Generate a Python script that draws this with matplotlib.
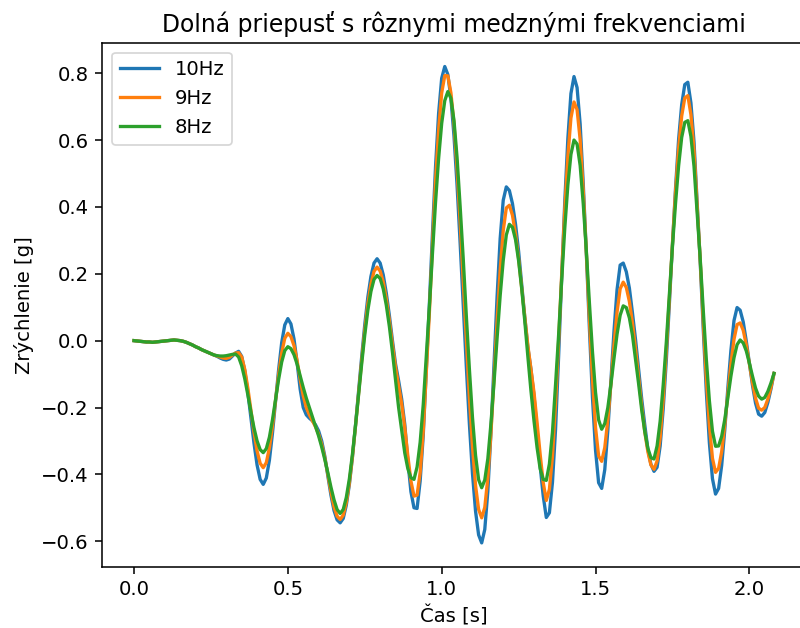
import numpy as np
import matplotlib
matplotlib.use("Agg")
import matplotlib.pyplot as plt

# Sampling rate of the filtered acceleration signals [Hz]
fs = 100

labels = ["10Hz", "9Hz", "8Hz"]

# Low-pass filtered acceleration [g], cutoff 10 Hz
acc_10hz = [
    0.000, -0.001, -0.002, -0.003, -0.004, -0.004, -0.005, -0.004, -0.003, -0.002,
    -0.001, 0.000, 0.001, 0.002, 0.001, 0.000, -0.002, -0.005, -0.009, -0.013,
    -0.018, -0.022, -0.027, -0.031, -0.035, -0.039, -0.043,
    -0.047, -0.052, -0.056, -0.058, -0.055, -0.046, -0.037, -0.032,
    -0.047, -0.090, -0.155, -0.231, -0.307, -0.372, -0.415, -0.430,
    -0.411, -0.358, -0.277, -0.182, -0.087, -0.006, 0.047, 0.066,
    0.050, 0.005, -0.065, -0.145, -0.200, -0.222, -0.232, -0.240, -0.252, -0.270,
    -0.300, -0.345, -0.405, -0.462, -0.508, -0.536, -0.545,
    -0.532, -0.492, -0.430, -0.348, -0.252, -0.150, -0.048, 0.048, 0.130, 0.192, 0.232, 0.245,
    0.232, 0.197, 0.142, 0.075, 0.000, -0.070, -0.120, -0.175, -0.250, -0.360, -0.452, -0.500, -0.502,
    -0.420, -0.284, -0.090, 0.110, 0.320, 0.520, 0.680, 0.785, 0.820,
    0.796, 0.725, 0.612, 0.464, 0.291, 0.108, -0.076, -0.249, -0.397, -0.510, -0.581, -0.605,
    -0.565, -0.450, -0.276, -0.073, 0.131, 0.305, 0.420, 0.460,
    0.449, 0.410, 0.348, 0.267, 0.170, 0.070, -0.020, -0.085, -0.165, -0.270, -0.375, -0.465, -0.529,
    -0.515, -0.424, -0.266, -0.047, 0.189, 0.415, 0.604, 0.739, 0.790,
    0.757, 0.648, 0.471, 0.264, 0.038, -0.170, -0.328, -0.425, -0.442,
    -0.386, -0.268, -0.121, 0.029, 0.153, 0.226, 0.232,
    0.206, 0.157, 0.083, 0.003, -0.087, -0.174, -0.252, -0.324, -0.370, -0.391,
    -0.379, -0.315, -0.203, -0.059, 0.111, 0.288, 0.456, 0.602, 0.706, 0.766,
    0.773, 0.711, 0.595, 0.419, 0.239, 0.036, -0.151, -0.306, -0.413, -0.459,
    -0.442, -0.373, -0.267, -0.142, -0.029, 0.060, 0.099,
    0.091, 0.056, -0.002, -0.067, -0.133, -0.187, -0.220, -0.226,
    -0.215, -0.185, -0.145, -0.098,
]

# Low-pass filtered acceleration [g], cutoff 9 Hz
acc_9hz = [
    0.000, -0.001, -0.002, -0.003, -0.004, -0.004, -0.005, -0.004, -0.003, -0.002,
    -0.001, 0.000, 0.001, 0.002, 0.001, 0.000, -0.002, -0.005, -0.009, -0.013,
    -0.018, -0.022, -0.027, -0.031, -0.035, -0.039, -0.043,
    -0.046, -0.049, -0.052, -0.053, -0.050, -0.043, -0.037, -0.036,
    -0.049, -0.086, -0.142, -0.208, -0.274, -0.330, -0.367, -0.380,
    -0.365, -0.321, -0.256, -0.179, -0.102, -0.037, 0.007, 0.022,
    0.012, -0.015, -0.060, -0.115, -0.165, -0.200, -0.222, -0.240, -0.258, -0.280,
    -0.310, -0.350, -0.400, -0.452, -0.497, -0.525, -0.535,
    -0.522, -0.484, -0.425, -0.346, -0.255, -0.158, -0.060, 0.031, 0.110, 0.169, 0.207, 0.220,
    0.208, 0.176, 0.125, 0.060, -0.012, -0.080, -0.135, -0.190, -0.260, -0.345, -0.420, -0.465, -0.462,
    -0.395, -0.271, -0.093, 0.084, 0.286, 0.478, 0.631, 0.741, 0.793,
    0.792, 0.741, 0.648, 0.513, 0.354, 0.178, -0.003, -0.171, -0.317, -0.433, -0.505, -0.530,
    -0.499, -0.410, -0.277, -0.113, 0.057, 0.211, 0.329, 0.397,
    0.405, 0.375, 0.318, 0.245, 0.158, 0.068, -0.015, -0.085, -0.155, -0.245, -0.340, -0.425, -0.478,
    -0.445, -0.347, -0.190, -0.003, 0.198, 0.391, 0.551, 0.666, 0.714,
    0.691, 0.601, 0.449, 0.266, 0.067, -0.116, -0.260, -0.345, -0.361,
    -0.320, -0.236, -0.129, -0.013, 0.086, 0.155, 0.175,
    0.159, 0.117, 0.053, -0.024, -0.109, -0.195, -0.273, -0.332, -0.372, -0.385,
    -0.360, -0.290, -0.176, -0.029, 0.126, 0.290, 0.445, 0.575, 0.672, 0.726,
    0.733, 0.676, 0.570, 0.410, 0.245, 0.059, -0.113, -0.254, -0.352, -0.394,
    -0.382, -0.332, -0.251, -0.160, -0.069, 0.004, 0.048,
    0.053, 0.031, -0.013, -0.068, -0.125, -0.172, -0.202, -0.208,
    -0.200, -0.175, -0.140, -0.098,
]

# Low-pass filtered acceleration [g], cutoff 8 Hz
acc_8hz = [
    0.000, -0.001, -0.002, -0.003, -0.004, -0.004, -0.005, -0.004, -0.003, -0.002,
    -0.001, 0.000, 0.001, 0.002, 0.001, 0.000, -0.002, -0.005, -0.009, -0.013,
    -0.018, -0.022, -0.027, -0.031, -0.035, -0.039, -0.043,
    -0.045, -0.046, -0.046, -0.045, -0.043, -0.041, -0.040,
    -0.049, -0.075, -0.114, -0.162, -0.213, -0.261, -0.300, -0.326, -0.335,
    -0.323, -0.289, -0.237, -0.177, -0.116, -0.064, -0.030, -0.018,
    -0.024, -0.042, -0.070, -0.105, -0.140, -0.172, -0.200, -0.228, -0.255, -0.285,
    -0.318, -0.355, -0.395, -0.438, -0.476, -0.505, -0.517,
    -0.505, -0.469, -0.413, -0.339, -0.253, -0.161, -0.069, 0.017, 0.091, 0.147, 0.183, 0.195,
    0.186, 0.155, 0.106, 0.042, -0.035, -0.119, -0.200, -0.269, -0.336, -0.383, -0.410, -0.415,
    -0.378, -0.304, -0.192, -0.046, 0.101, 0.261, 0.414, 0.545, 0.650, 0.718, 0.745,
    0.725, 0.658, 0.547, 0.401, 0.245, 0.075, -0.085, -0.229, -0.343, -0.416, -0.440,
    -0.417, -0.353, -0.249, -0.126, 0.007, 0.134, 0.240, 0.316, 0.348,
    0.339, 0.302, 0.239, 0.156, 0.059, -0.047, -0.149, -0.240, -0.320, -0.383, -0.415, -0.418,
    -0.369, -0.274, -0.132, 0.017, 0.182, 0.336, 0.465, 0.557, 0.600,
    0.588, 0.524, 0.410, 0.270, 0.114, -0.033, -0.155, -0.237, -0.265,
    -0.248, -0.200, -0.131, -0.053, 0.020, 0.076, 0.104,
    0.099, 0.068, 0.016, -0.056, -0.129, -0.207, -0.272, -0.322, -0.350, -0.354,
    -0.315, -0.241, -0.132, -0.005, 0.138, 0.282, 0.411, 0.523, 0.608, 0.653,
    0.658, 0.611, 0.522, 0.387, 0.248, 0.092, -0.055, -0.180, -0.271, -0.316,
    -0.315, -0.286, -0.236, -0.172, -0.106, -0.051, -0.012, 0.002,
    -0.007, -0.031, -0.067, -0.106, -0.142, -0.166, -0.175,
    -0.170, -0.152, -0.127, -0.098,
]

series = [acc_10hz, acc_9hz, acc_8hz]
n = len(acc_10hz)
assert all(len(s) == n for s in series)
t = np.arange(n) / fs

plt.rcParams.update({
    "font.size": 11.3,
    "lines.linewidth": 1.9,
    "lines.solid_joinstyle": "round",
    "axes.linewidth": 0.9,
    "xtick.major.size": 4.0,
    "ytick.major.size": 4.0,
    "xtick.major.width": 0.9,
    "ytick.major.width": 0.9,
})

fig = plt.figure(figsize=(6.4, 5.024), dpi=125)
ax = fig.add_axes([0.1275, 0.0976, 0.88, 0.8344])

for vals, lab in zip(series, labels):
    ax.plot(t, vals, label=lab)

ax.set_title("Dolná priepusť s rôznymi medznými frekvenciami")
ax.set_xlabel("Čas [s]")
ax.set_ylabel("Zrýchlenie [g]")
ax.legend(loc="upper left")

fig.savefig("out.png", dpi=125)
